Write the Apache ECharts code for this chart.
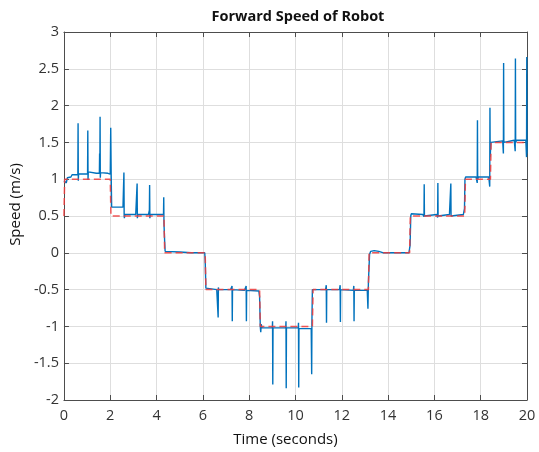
<!DOCTYPE html>
<html>
<head>
<meta charset="utf-8">
<script src="https://cdn.jsdelivr.net/npm/echarts@6/dist/echarts.min.js"></script>
<style>html,body{margin:0;padding:0;background:#fff}#c{width:539px;height:452px}</style>
</head>
<body>
<div id="c"></div>
<script>
var xTicks = [0, 2, 4, 6, 8, 10, 12, 14, 16, 18, 20];
var yTicks = [-2, -1.5, -1, -0.5, 0, 0.5, 1, 1.5, 2, 2.5, 3];

// Reference (commanded) speed, red dashed
var refTime  = [0, 0.03, 2.0, 2.03, 4.32, 4.35, 6.1, 6.13, 8.45, 8.48, 10.73, 10.76, 13.15, 13.18, 14.93, 14.96, 17.31, 17.34, 18.42, 18.45, 20];
var refSpeed = [0.5, 1.0, 1.0, 0.5, 0.5, 0.0, 0.0, -0.5, -0.5, -1.0, -1.0, -0.5, -0.5, 0.0, 0.0, 0.5, 0.5, 1.0, 1.0, 1.5, 1.5];

// Measured speed, blue
var measTime = [
  0, 0.05, 0.1, 0.15, 0.3, 0.35, 0.5,
  0.6, 0.61, 0.62, 0.63,
  0.9, 1.02, 1.03, 1.04, 1.05, 1.1,
  1.4, 1.53, 1.54, 1.55, 1.56, 1.57, 1.58,
  1.9, 2.0, 2.02, 2.04, 2.06,
  2.55, 2.58, 2.59, 2.6, 2.61, 2.63,
  3.1, 3.15, 3.16, 3.17, 3.19,
  3.65, 3.69, 3.7, 3.71, 3.73,
  4.3, 4.31, 4.32, 4.35, 4.37, 4.4,
  5.0, 5.5, 6.08, 6.1, 6.13, 6.2,
  6.6, 6.65, 6.66, 6.67, 6.68,
  7.2, 7.26, 7.27, 7.28,
  7.8, 7.87, 7.88, 7.89,
  8.42, 8.45, 8.48, 8.5, 8.52, 8.55,
  9.0, 9.01, 9.02, 9.03,
  9.58, 9.59, 9.6, 9.61,
  10.12, 10.13, 10.14, 10.15,
  10.68, 10.7, 10.71, 10.73, 10.75,
  11.3, 11.33, 11.34, 11.35,
  11.9, 11.93, 11.94, 11.95,
  12.5, 12.52, 12.53, 12.54,
  13.1, 13.13, 13.15, 13.2, 13.25,
  13.4, 13.6, 13.8, 14.9, 14.95, 14.98, 15.0,
  15.5, 15.55, 15.56, 15.57, 15.6,
  16.1, 16.14, 16.15, 16.16, 16.2,
  16.65, 16.7, 16.71, 16.72, 16.75,
  17.25, 17.3, 17.32, 17.35,
  17.8, 17.85, 17.86, 17.87, 17.9,
  18.35, 18.39, 18.4, 18.41, 18.44, 18.5,
  18.95, 18.98, 18.99, 19.0, 19.05,
  19.45, 19.49, 19.5, 19.51, 19.55,
  19.95, 19.98, 19.99, 20
];
var measSpeed = [
  0.98, 1.0, 0.95, 1.02, 1.03, 1.06, 1.06,
  1.06, 1.76, 0.98, 1.07,
  1.07, 1.07, 1.66, 0.99, 1.10, 1.08,
  1.08, 1.08, 1.35, 1.08, 1.85, 1.02, 1.09,
  1.08, 1.07, 1.70, 1.05, 0.62,
  0.62, 0.62, 1.09, 0.52, 0.47, 0.52,
  0.52, 0.52, 0.94, 0.47, 0.52,
  0.52, 0.58, 0.92, 0.47, 0.52,
  0.52, 0.755, 0.4, 0.15, 0.02, 0.0,
  0.01, 0.0, 0.0, -0.1, -0.48, -0.5,
  -0.5, -0.5, -0.88, -0.47, -0.5,
  -0.5, -0.45, -0.93, -0.5,
  -0.51, -0.45, -0.93, -0.51,
  -0.52, -0.6, -1.0, -1.08, -0.97, -1.02,
  -1.02, -0.93, -1.79, -1.02,
  -1.02, -0.93, -1.84, -1.02,
  -1.02, -0.95, -1.83, -1.03,
  -1.03, -1.65, -0.95, -0.5, -0.5,
  -0.5, -0.44, -0.95, -0.5,
  -0.5, -0.44, -0.94, -0.5,
  -0.51, -0.45, -0.93, -0.51,
  -0.51, -0.76, -0.4, -0.02, 0.02,
  0.03, 0.02, 0.0, 0.0, 0.1, 0.5, 0.53,
  0.52, 0.49, 0.93, 0.5, 0.52,
  0.52, 0.48, 0.95, 0.5, 0.52,
  0.52, 0.5, 0.94, 0.5, 0.52,
  0.52, 0.6, 1.0, 1.03,
  1.03, 0.95, 1.80, 1.0, 1.03,
  1.03, 0.9, 1.97, 1.3, 1.5, 1.52,
  1.52, 1.35, 2.58, 1.5, 1.52,
  1.53, 1.38, 2.64, 1.5, 1.53,
  1.53, 1.3, 2.66, 1.35
];

var measData = measTime.map(function (t, i) { return [t, measSpeed[i]]; });
var refData = refTime.map(function (t, i) { return [t, refSpeed[i]]; });

var FONT = 'Open Sans';
var axisColor = '#4d4d4d';
var gridColor = '#dedede';

var chart = echarts.init(document.getElementById('c'), null, {renderer: 'canvas'});
chart.setOption({
  animation: false,
  backgroundColor: '#ffffff',
  title: {
    text: 'Forward Speed of Robot',
    left: 293, top: 4, textAlign: 'center',
    textStyle: {fontFamily: FONT, fontWeight: 'bold', fontSize: 14.5, color: '#111'}
  },
  grid: {left: 59, right: 12, top: 32, bottom: 51, containLabel: false},
  xAxis: [{
    type: 'value', min: xTicks[0], max: xTicks[xTicks.length - 1], interval: 2,
    name: 'Time (seconds)', nameLocation: 'middle', nameGap: 32,
    nameTextStyle: {fontFamily: FONT, fontSize: 15, color: '#111', padding: [0, 20, 0, 0]},
    axisLine: {show: true, onZero: false, lineStyle: {color: axisColor, width: 1}},
    axisTick: {show: true, inside: true, length: 5, lineStyle: {color: axisColor}},
    axisLabel: {fontFamily: FONT, fontSize: 14.5, color: '#333', margin: 8},
    splitLine: {show: true, lineStyle: {color: gridColor, width: 1}}
  }, {
    type: 'value', position: 'top', min: xTicks[0], max: xTicks[xTicks.length - 1], interval: 2,
    axisLine: {show: true, onZero: false, lineStyle: {color: axisColor, width: 1}},
    axisTick: {show: true, inside: true, length: 5, lineStyle: {color: axisColor}},
    axisLabel: {show: false}, splitLine: {show: false}
  }],
  yAxis: [{
    type: 'value', min: yTicks[0], max: yTicks[yTicks.length - 1], interval: 0.5,
    name: 'Speed (m/s)', nameLocation: 'middle', nameGap: 37,
    nameTextStyle: {fontFamily: FONT, fontSize: 15, color: '#111', padding: [0, 0, 0, 23]},
    axisLine: {show: true, onZero: false, lineStyle: {color: axisColor, width: 1}},
    axisTick: {show: true, inside: true, length: 5, lineStyle: {color: axisColor}},
    axisLabel: {fontFamily: FONT, fontSize: 14.5, color: '#333', margin: 5},
    splitLine: {show: true, lineStyle: {color: gridColor, width: 1}}
  }, {
    type: 'value', position: 'right', min: yTicks[0], max: yTicks[yTicks.length - 1], interval: 0.5,
    axisLine: {show: true, onZero: false, lineStyle: {color: axisColor, width: 1}},
    axisTick: {show: true, inside: true, length: 5, lineStyle: {color: axisColor}},
    axisLabel: {show: false}, splitLine: {show: false}
  }],
  series: [{
    type: 'line', name: 'Measured', data: measData,
    showSymbol: false, symbol: 'none',
    lineStyle: {color: '#0072bd', width: 1.4},
    z: 2
  }, {
    type: 'line', name: 'Reference', data: refData,
    showSymbol: false, symbol: 'none',
    lineStyle: {color: '#ee3b3b', width: 1.5, type: [7, 4], opacity: 0.85},
    z: 3
  }]
});
</script>
</body>
</html>
